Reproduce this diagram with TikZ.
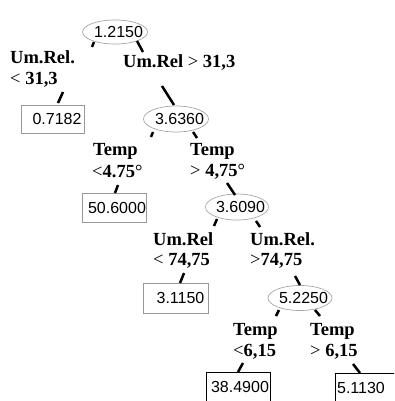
\documentclass[tikz,border=0pt]{standalone}
\usepackage{fontspec}
\setmainfont{Liberation Serif}
\newfontfamily\numfont{Liberation Sans}
\usetikzlibrary{shapes.geometric}
\newcommand{\rs}[2][7pt]{\hspace*{#1}#2}
\newcommand{\es}[1]{\makebox[0pt]{\hspace*{7pt}#1}}
\tikzset{
  ell/.style={ellipse, draw=gray!70, line width=0.7pt, inner sep=0pt, font=\numfont\fontsize{16}{16}\selectfont},
  leaf/.style={rectangle, draw=gray!80, line width=0.8pt, inner sep=0pt, font=\numfont\fontsize{16}{16}\selectfont},
  darkleaf/.style={leaf, draw=black},
  lab/.style={anchor=base west, inner sep=0pt, font=\fontsize{18.5}{21}\selectfont\bfseries},
  stub/.style={line width=2.5pt, line cap=butt},
}
\begin{document}
\begin{tikzpicture}[x=1pt,y=-1pt]
\clip (0,0) rectangle (394,401);
\fill[white] (0,0) rectangle (394,401);
% nodes
\node[ell, minimum width=65pt, minimum height=24pt] (e1) at (115,32) {\es{1.2150}};
\node[ell, minimum width=65pt, minimum height=26pt] (e2) at (176,119) {\es{3.6360}};
\node[ell, minimum width=63pt, minimum height=26pt] (e3) at (237,207) {\es{3.6090}};
\node[ell, minimum width=64pt, minimum height=25pt] (e4) at (300,298) {\es{5.2250}};
\node[leaf, minimum width=63pt, minimum height=28pt] (b1) at (52.5,119) {\rs[9pt]{0.7182}};
\node[leaf, minimum width=64pt, minimum height=29pt] (b2) at (114,207.5) {\rs[6pt]{50.6000}};
\node[leaf, minimum width=65pt, minimum height=30pt] (b3) at (176,298) {\rs[9pt]{3.1150}};
\node[darkleaf, minimum width=64pt, minimum height=34pt] (b4) at (238,389) {\raisebox{4pt}{\rs[4pt]{38.4900}}};
\node[darkleaf, minimum width=64pt, minimum height=34pt] (b5) at (367,390) {\raisebox{4pt}{\hspace*{-6pt}5.1130\hspace*{6pt}}};
% labels
\node[lab] (l1a) at (10,64) {Um.Rel.};
\node[lab] (l1b) at (10,85) {{\mdseries<} 31,3};
\node[lab] (l2) at (123,68) {Um.Rel {\mdseries>} 31,3};
\node[lab] (l3a) at (93,155) {Temp};
\node[lab] (l3b) at (92,177) {{\mdseries<}4.75{\mdseries°}};
\node[lab] (l4a) at (190,155) {Temp};
\node[lab] (l4b) at (190,176) {{\mdseries>} 4,75{\mdseries°}};
\node[lab] (l5a) at (153,245) {Um.Rel};
\node[lab] (l5b) at (153,265) {{\mdseries<} 74,75};
\node[lab] (l6a) at (250,245) {Um.Rel.};
\node[lab] (l6b) at (250,265) {{\mdseries>}74,75};
\node[lab] (l7a) at (233,335) {Temp};
\node[lab] (l7b) at (233,356) {{\mdseries<}6,15};
\node[lab] (l8a) at (310,335) {Temp};
\node[lab] (l8b) at (310,356) {{\mdseries>} 6,15};
% stub coordinates
\coordinate (s1a) at (94,42);  \coordinate (s1b) at (92,47);
\coordinate (s2a) at (137,41); \coordinate (s2b) at (143,52);
\coordinate (s3a) at (63,92);  \coordinate (s3b) at (58,103);
\coordinate (s4a) at (162,86); \coordinate (s4b) at (174,105);
\coordinate (s5a) at (153,132); \coordinate (s5b) at (151,137);
\coordinate (s6a) at (193,132); \coordinate (s6b) at (197,138);
\coordinate (s7a) at (118,185); \coordinate (s7b) at (115,193);
\coordinate (s8a) at (227,183); \coordinate (s8b) at (235,195);
\coordinate (s9a) at (217,219); \coordinate (s9b) at (214,226);
\coordinate (s10a) at (256,221); \coordinate (s10b) at (260,227);
\coordinate (s11a) at (184,273); \coordinate (s11b) at (180,283);
\coordinate (s12a) at (295,276); \coordinate (s12b) at (300,285);
\coordinate (s13a) at (279,310); \coordinate (s13b) at (276,316);
\coordinate (s14a) at (315,310); \coordinate (s14b) at (320,316);
\coordinate (s15a) at (243,363); \coordinate (s15b) at (238,372);
\coordinate (s16a) at (353,364); \coordinate (s16b) at (360,373);
\foreach \i in {1,...,16} \draw[stub] (s\i a) -- (s\i b);
\end{tikzpicture}
\end{document}
